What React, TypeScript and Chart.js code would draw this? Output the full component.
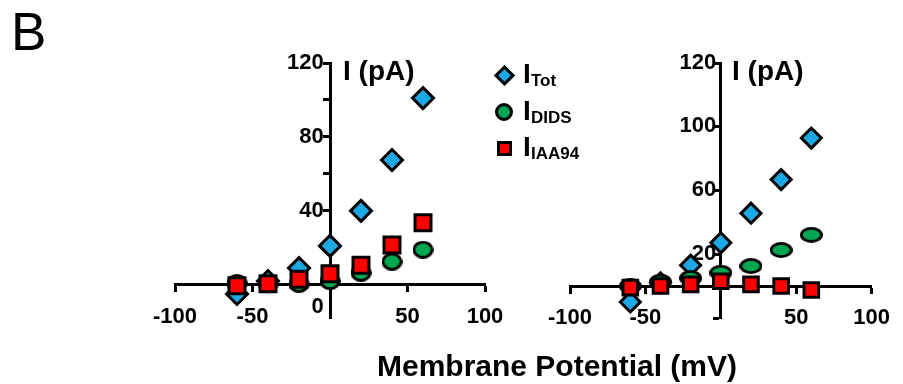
import React, { useEffect, useRef } from 'react';
import { Chart, registerables } from 'chart.js';

Chart.register(...registerables);

// ---------- data ----------
const voltages = [-60, -40, -20, 0, 20, 40, 60];

const leftTot = [-5, 2, 9, 21, 40, 67.5, 101];
const leftDids = [1, 0.5, 0.5, 2, 6.5, 12.5, 19];
const leftIaa94 = [-0.5, 0.5, 3, 6, 10.5, 21.5, 33.5];

const rightTot = [-10, 2, 13, 27, 45.5, 66.5, 92.5];
const rightDids = [0, 2.7, 5, 8.3, 12.5, 22.5, 32];
const rightIaa94 = [-1, 0, 1, 3, 1, 0, -2.5];

const xTicks = [-100, -50, 0, 50, 100];
const xTickLabels = ['-100', '-50', '', '50', '100'];

const leftYTicks = [-12, 0, 20, 40, 60, 80, 100, 120];
const leftYTickLabels = ['0', '', '', '40', '', '80', '', '120'];
const leftYHiddenMarks = [-12];

const rightYTicks = [-20, 20, 60, 100, 139.4];
const rightYTickLabels = ['', '20', '60', '100', '120'];
const rightYHiddenMarks: number[] = [];

const seriesNames = ['Tot', 'DIDS', 'IAA94'];

const BLUE = '#1BA9E6';
const GREEN = '#00A651';
const RED = '#FF0000';
const FONT = "'Liberation Sans', Arial, Helvetica, sans-serif";

function ellipseImage(w: number, h: number, lw: number) {
  const c = document.createElement('canvas');
  c.width = w;
  c.height = h;
  const ctx = c.getContext('2d')!;
  ctx.beginPath();
  ctx.ellipse(w / 2, h / 2, w / 2 - lw / 2, h / 2 - lw / 2, 0, 0, Math.PI * 2);
  ctx.fillStyle = GREEN;
  ctx.fill();
  ctx.lineWidth = lw;
  ctx.strokeStyle = '#000';
  ctx.stroke();
  return c;
}

type Cfg = {
  tot: number[];
  dids: number[];
  iaa: number[];
  yMin: number;
  yMax: number;
  yTicks: number[];
  yLabels: string[];
  hiddenMarks: number[];
  labelShift: number;
  padding: { left: number; right: number; top: number; bottom: number };
  circle: [number, number];
  diamondR: number;
  squareR: number;
};

function buildChart(canvas: HTMLCanvasElement, cfg: Cfg) {
  const tickFont = { family: FONT, size: 22, weight: 'bold' as const };
  const pts = (arr: number[]) => voltages.map((x, i) => ({ x, y: arr[i] }));
  const setYTicks = (s: any) => {
    s.ticks = cfg.yTicks.map((v) => ({ value: v }));
  };
  return new Chart(canvas, {
    type: 'scatter',
    data: {
      datasets: [
        {
          label: seriesNames[0],
          data: pts(cfg.tot),
          pointStyle: 'rectRot',
          pointRadius: cfg.diamondR,
          pointHoverRadius: cfg.diamondR,
          pointBackgroundColor: BLUE,
          pointBorderColor: '#000',
          pointBorderWidth: 3,
          pointHoverBorderWidth: 3,
          order: 3,
        },
        {
          label: seriesNames[1],
          data: pts(cfg.dids),
          pointStyle: ellipseImage(cfg.circle[0], cfg.circle[1], 2.8) as any,
          pointRadius: 9,
          pointHoverRadius: 9,
          pointBackgroundColor: GREEN,
          pointBorderColor: '#000',
          pointBorderWidth: 3,
          order: 2,
        },
        {
          label: seriesNames[2],
          data: pts(cfg.iaa),
          pointStyle: 'rect',
          pointRadius: cfg.squareR,
          pointHoverRadius: cfg.squareR,
          pointBackgroundColor: RED,
          pointBorderColor: '#000',
          pointBorderWidth: 3,
          pointHoverBorderWidth: 3,
          order: 1,
        },
      ],
    },
    options: {
      animation: false,
      responsive: false,
      maintainAspectRatio: false,
      events: [],
      layout: { padding: cfg.padding },
      plugins: { legend: { display: false }, tooltip: { enabled: false } },
      scales: {
        x: {
          type: 'linear',
          min: -100,
          max: 100,
          position: { y: 0 } as any,
          afterBuildTicks: (s: any) => {
            s.ticks = xTicks.map((v) => ({ value: v }));
          },
          ticks: {
            autoSkip: false,
            maxRotation: 0,
            padding: 13,
            color: '#000',
            font: tickFont,
            callback: (_v: any, i: number) => xTickLabels[i],
          },
          grid: {
            drawOnChartArea: false,
            drawTicks: true,
            tickLength: 6,
            tickWidth: 3,
            tickColor: '#000',
          },
          border: { display: true, color: '#000', width: 3 },
        },
        y: {
          type: 'linear',
          min: cfg.yMin,
          max: cfg.yMax,
          position: { x: 0 } as any,
          afterBuildTicks: setYTicks,
          ticks: { display: false, autoSkip: false },
          grid: {
            drawOnChartArea: false,
            drawTicks: true,
            tickLength: 6,
            tickWidth: 3,
            tickColor: (ctx: any) =>
              ctx.tick && cfg.hiddenMarks.includes(ctx.tick.value) ? 'rgba(0,0,0,0)' : '#000',
          },
          border: { display: true, color: '#000', width: 3 },
        },
        yLabels: {
          type: 'linear',
          axis: 'y',
          min: cfg.yMin,
          max: cfg.yMax,
          position: { x: cfg.labelShift } as any,
          afterBuildTicks: setYTicks,
          ticks: {
            autoSkip: false,
            color: '#000',
            font: tickFont,
            callback: (_v: any, i: number) => cfg.yLabels[i],
          },
          grid: { display: false, drawTicks: false },
          border: { display: false },
        } as any,
      },
    },
  });
}

const abs = (o: React.CSSProperties): React.CSSProperties => ({
  position: 'absolute',
  margin: 0,
  lineHeight: 1,
  whiteSpace: 'nowrap',
  fontFamily: FONT,
  color: '#000',
  ...o,
});

export default function App() {
  const leftRef = useRef<HTMLCanvasElement>(null);
  const rightRef = useRef<HTMLCanvasElement>(null);

  useEffect(() => {
    const a = buildChart(leftRef.current!, {
      tot: leftTot,
      dids: leftDids,
      iaa: leftIaa94,
      yMin: -18,
      yMax: 120,
      yTicks: leftYTicks,
      yLabels: leftYTickLabels,
      hiddenMarks: leftYHiddenMarks,
      labelShift: -4,
      padding: { left: 175, right: 35, top: 63, bottom: 66 },
      circle: [21, 18],
      diamondR: 10.5,
      squareR: 11.3,
    });
    const b = buildChart(rightRef.current!, {
      tot: rightTot,
      dids: rightDids,
      iaa: rightIaa94,
      yMin: -20,
      yMax: 139.4,
      yTicks: rightYTicks,
      yLabels: rightYTickLabels,
      hiddenMarks: rightYHiddenMarks,
      labelShift: -3,
      padding: { left: 50, right: 31, top: 63, bottom: 66 },
      circle: [23, 16],
      diamondR: 10,
      squareR: 10.3,
    });
    return () => {
      a.destroy();
      b.destroy();
    };
  }, []);

  const legendRows = [75, 112, 148];

  return (
    <div style={{ position: 'absolute', left: 0, top: 0, width: 903, height: 384, background: '#fff', overflow: 'hidden' }}>
      <canvas ref={leftRef} width={520} height={384} style={{ position: 'absolute', left: 0, top: 0, width: 520, height: 384 }} />
      <canvas ref={rightRef} width={383} height={384} style={{ position: 'absolute', left: 520, top: 0, width: 383, height: 384 }} />

      <div style={abs({ left: 11, top: 5, fontSize: 53 })}>B</div>

      <div style={abs({ left: 343, top: 57, fontSize: 28, fontWeight: 'bold' })}>I (pA)</div>
      <div style={abs({ left: 732, top: 57, fontSize: 28, fontWeight: 'bold' })}>I (pA)</div>

      <div style={abs({ left: 557, top: 351, fontSize: 30, fontWeight: 'bold', transform: 'translateX(-50%)' })}>
        Membrane Potential (mV)
      </div>

      {/* legend */}
      <div
        style={{
          position: 'absolute',
          left: 504 - 7.5,
          top: legendRows[0] - 7.5,
          width: 15,
          height: 15,
          boxSizing: 'border-box',
          border: '3px solid #000',
          background: BLUE,
          transform: 'rotate(45deg)',
        }}
      />
      <div
        style={{
          position: 'absolute',
          left: 504 - 9,
          top: legendRows[1] - 9,
          width: 18,
          height: 18,
          boxSizing: 'border-box',
          border: '3px solid #000',
          borderRadius: '50%',
          background: GREEN,
        }}
      />
      <div
        style={{
          position: 'absolute',
          left: 504 - 7.5,
          top: legendRows[2] - 7.5,
          width: 15,
          height: 15,
          boxSizing: 'border-box',
          border: '3px solid #000',
          background: RED,
        }}
      />
      {seriesNames.map((name, i) => (
        <React.Fragment key={name}>
          <div style={abs({ left: 523, top: legendRows[i] - 14.7, fontSize: 28, fontWeight: 'bold' })}>I</div>
          <div style={abs({ left: 531, top: legendRows[i] - 3.4, fontSize: 17, fontWeight: 'bold' })}>{name}</div>
        </React.Fragment>
      ))}
    </div>
  );
}
